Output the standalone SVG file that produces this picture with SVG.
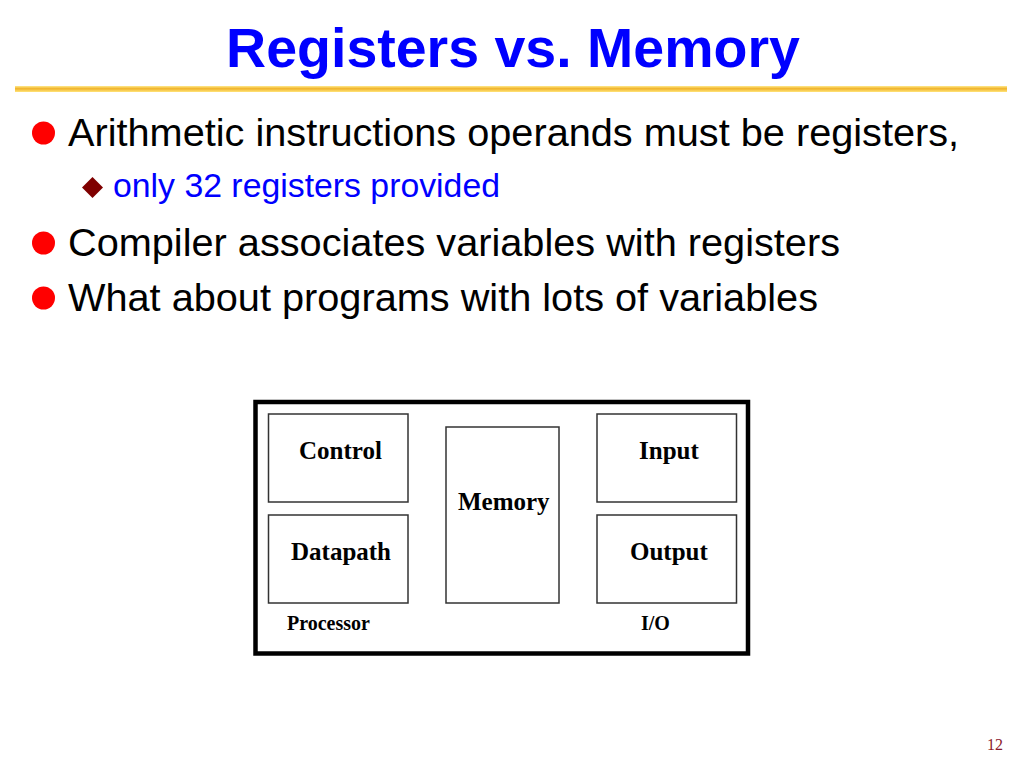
<svg xmlns="http://www.w3.org/2000/svg" width="1024" height="768" viewBox="0 0 1024 768">
  <defs>
    <linearGradient id="gold" x1="0" y1="0" x2="0" y2="1">
      <stop offset="0" stop-color="#FFE98A"/>
      <stop offset="0.45" stop-color="#F0B32A"/>
      <stop offset="1" stop-color="#FFE47A"/>
    </linearGradient>
  </defs>
  <style>
    .title { font-family: "Liberation Sans", Arial, sans-serif; font-weight: bold; font-size: 55.5px; fill: #0000FF; }
    .b1 { font-family: "Liberation Sans", Arial, sans-serif; font-size: 39.7px; fill: #000000; }
    .b2 { font-family: "Liberation Sans", Arial, sans-serif; font-size: 33.8px; fill: #0000FF; }
    .dot { fill: #FF0000; }
    .dia { fill: #7F0000; }
    .box { fill: #FFFFFF; stroke: #333333; stroke-width: 1.5; }
    .lbl { font-family: "Liberation Serif", "Times New Roman", serif; font-weight: bold; font-size: 25px; fill: #000000; }
    .sm { font-family: "Liberation Serif", "Times New Roman", serif; font-weight: bold; font-size: 20px; fill: #000000; }
  </style>
  <rect width="1024" height="768" fill="#FFFFFF"/>

  <g id="title">
    <text class="title" x="513" y="67" text-anchor="middle">Registers vs. Memory</text>
    <rect x="15" y="86" width="992" height="6" fill="url(#gold)"/>
  </g>

  <g id="bullets">
    <circle class="dot" cx="43.5" cy="133" r="11.5"/>
    <text class="b1" x="68" y="146">Arithmetic instructions operands must be registers,</text>
    <polygon class="dia" points="92.5,177 103,187.5 92.5,198 82,187.5"/>
    <text class="b2" x="113" y="197">only 32 registers provided</text>
    <circle class="dot" cx="43.5" cy="243" r="11.5"/>
    <text class="b1" x="68" y="256">Compiler associates variables with registers</text>
    <circle class="dot" cx="43.5" cy="298" r="11.5"/>
    <text class="b1" x="68" y="311">What about programs with lots of variables</text>
  </g>

  <g id="computer">
    <rect x="255.5" y="402" width="492.5" height="251.5" fill="#FFFFFF" stroke="#000000" stroke-width="4.5"/>
  </g>
  <g id="control">
    <rect class="box" x="268.5" y="414" width="139.5" height="88"/>
    <text class="lbl" x="299" y="459">Control</text>
  </g>
  <g id="datapath">
    <rect class="box" x="268.5" y="515" width="139.5" height="88"/>
    <text class="lbl" x="291" y="560">Datapath</text>
  </g>
  <g id="memory">
    <rect class="box" x="446" y="427" width="113" height="176"/>
    <text class="lbl" x="458" y="510">Memory</text>
  </g>
  <g id="input">
    <rect class="box" x="597" y="414" width="139.5" height="88"/>
    <text class="lbl" x="639" y="459">Input</text>
  </g>
  <g id="output">
    <rect class="box" x="597" y="515" width="139.5" height="88"/>
    <text class="lbl" x="630" y="560">Output</text>
  </g>
  <g id="processor-label">
    <text class="sm" x="287" y="630">Processor</text>
  </g>
  <g id="io-label">
    <text class="sm" x="641" y="630">I/O</text>
  </g>
  <g id="connectors"></g>

  <g id="page-number">
    <text x="987" y="750" font-family="Liberation Serif, Times New Roman, serif" font-size="16" fill="#8B1A2B">12</text>
  </g>
</svg>
